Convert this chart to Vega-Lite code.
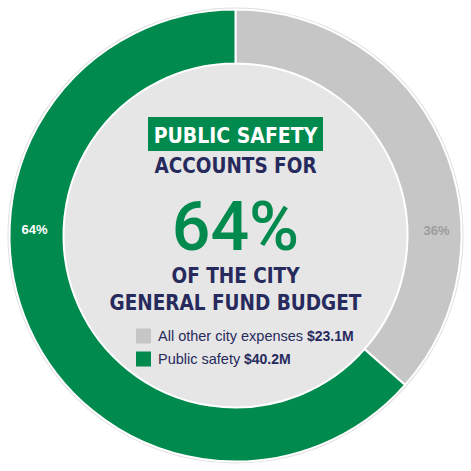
{
  "$schema": "https://vega.github.io/schema/vega-lite/v6.json",
  "width": 471,
  "height": 471,
  "autosize": {"type": "fit", "contains": "padding"},
  "padding": 0,
  "background": "white",
  "view": {"stroke": null},
  "datasets": {
    "budget": [
      {"category": "All other city expenses", "amount": 23.1, "pct": "36%", "amount_label": "$23.1M"},
      {"category": "Public safety", "amount": 40.2, "pct": "64%", "amount_label": "$40.2M"}
    ],
    "headline": [
      {"part": "kicker", "text": "PUBLIC SAFETY"},
      {"part": "lead", "text": "ACCOUNTS FOR"},
      {"part": "big", "text": "64%"},
      {"part": "tail1", "text": "OF THE CITY"},
      {"part": "tail2", "text": "GENERAL FUND BUDGET"}
    ]
  },
  "data": {"name": "budget"},
  "layer": [
    {
      "data": {"values": [{}]},
      "mark": {"type": "arc", "theta": 0, "theta2": 6.2832, "radius": 228, "fill": "#e0e0e0"},
      "encoding": {}
    },
    {
      "data": {"values": [{}]},
      "mark": {"type": "arc", "theta": 0, "theta2": 6.2832, "radius": 174, "fill": "#e6e6e6"},
      "encoding": {}
    },
    {
      "mark": {"type": "arc", "outerRadius": 226, "innerRadius": 172, "stroke": "white", "strokeWidth": 2},
      "encoding": {
        "theta": {"field": "amount", "type": "quantitative", "stack": true},
        "color": {
          "field": "category",
          "type": "nominal",
          "scale": {"domain": ["All other city expenses", "Public safety"], "range": ["#c6c6c6", "#008a4e"]},
          "legend": null
        }
      }
    },
    {
      "transform": [{"filter": "datum.category === 'Public safety'"}],
      "mark": {"type": "text", "theta": 4.7124, "radius": 201, "dy": -5, "baseline": "middle", "color": "white", "font": "Liberation Sans", "fontSize": 13, "fontWeight": "bold"},
      "encoding": {"text": {"field": "pct"}}
    },
    {
      "transform": [{"filter": "datum.category === 'All other city expenses'"}],
      "mark": {"type": "text", "theta": 1.5708, "radius": 201, "dy": -5, "baseline": "middle", "color": "#9c9c9c", "font": "Liberation Sans", "fontSize": 13, "fontWeight": "bold"},
      "encoding": {"text": {"field": "pct"}}
    },
    {
      "data": {"values": [{}]},
      "mark": {"type": "point", "shape": "M-1,-0.194H1V0.194H-1Z", "size": 30625, "filled": true, "fill": "#008a4e", "opacity": 1, "strokeWidth": 0, "yOffset": -101.5},
      "encoding": {}
    },
    {
      "data": {"name": "headline"},
      "transform": [{"filter": "datum.part === 'kicker'"}],
      "mark": {"type": "text", "dy": -92.5, "align": "center", "baseline": "alphabetic", "color": "white", "font": "DejaVu Sans Condensed", "fontSize": 21, "fontWeight": "bold"},
      "encoding": {"text": {"field": "text"}}
    },
    {
      "data": {"name": "headline"},
      "transform": [{"filter": "datum.part === 'lead'"}],
      "mark": {"type": "text", "dy": -62.5, "align": "center", "baseline": "alphabetic", "color": "#262a5c", "font": "DejaVu Sans Condensed", "fontSize": 20.5, "fontWeight": "bold"},
      "encoding": {"text": {"field": "text"}}
    },
    {
      "data": {"name": "headline"},
      "transform": [{"filter": "datum.part === 'big'"}],
      "mark": {"type": "text", "dy": 14.5, "align": "center", "baseline": "alphabetic", "color": "#008a4e", "font": "Roboto", "fontSize": 68, "fontWeight": 500},
      "encoding": {"text": {"field": "text"}}
    },
    {
      "data": {"name": "headline"},
      "transform": [{"filter": "datum.part === 'tail1'"}],
      "mark": {"type": "text", "dy": 47.5, "align": "center", "baseline": "alphabetic", "color": "#262a5c", "font": "DejaVu Sans Condensed", "fontSize": 20.5, "fontWeight": "bold"},
      "encoding": {"text": {"field": "text"}}
    },
    {
      "data": {"name": "headline"},
      "transform": [{"filter": "datum.part === 'tail2'"}],
      "mark": {"type": "text", "dy": 74.5, "align": "center", "baseline": "alphabetic", "color": "#262a5c", "font": "DejaVu Sans Condensed", "fontSize": 20.5, "fontWeight": "bold"},
      "encoding": {"text": {"field": "text"}}
    },
    {
      "transform": [{"filter": "datum.category === 'All other city expenses'"}],
      "mark": {"type": "point", "shape": "square", "size": 225, "filled": true, "opacity": 1, "strokeWidth": 0, "xOffset": -92, "yOffset": 100.5},
      "encoding": {"color": {"field": "category", "type": "nominal", "legend": null}}
    },
    {
      "transform": [{"filter": "datum.category === 'Public safety'"}],
      "mark": {"type": "point", "shape": "square", "size": 225, "filled": true, "opacity": 1, "strokeWidth": 0, "xOffset": -92, "yOffset": 123.5},
      "encoding": {"color": {"field": "category", "type": "nominal", "legend": null}}
    },
    {
      "transform": [{"filter": "datum.category === 'All other city expenses'"}],
      "mark": {"type": "text", "align": "left", "baseline": "alphabetic", "dx": -77.5, "dy": 105.5, "color": "#262a5c", "font": "Liberation Sans", "fontSize": 14.5},
      "encoding": {"text": {"field": "category"}}
    },
    {
      "transform": [{"filter": "datum.category === 'All other city expenses'"}],
      "mark": {"type": "text", "align": "left", "baseline": "alphabetic", "dx": 71.5, "dy": 105.5, "color": "#262a5c", "font": "Liberation Sans", "fontSize": 14, "fontWeight": "bold"},
      "encoding": {"text": {"field": "amount_label"}}
    },
    {
      "transform": [{"filter": "datum.category === 'Public safety'"}],
      "mark": {"type": "text", "align": "left", "baseline": "alphabetic", "dx": -77.5, "dy": 128.5, "color": "#262a5c", "font": "Liberation Sans", "fontSize": 14.5},
      "encoding": {"text": {"field": "category"}}
    },
    {
      "transform": [{"filter": "datum.category === 'Public safety'"}],
      "mark": {"type": "text", "align": "left", "baseline": "alphabetic", "dx": 8.5, "dy": 128.5, "color": "#262a5c", "font": "Liberation Sans", "fontSize": 14, "fontWeight": "bold"},
      "encoding": {"text": {"field": "amount_label"}}
    }
  ]
}
